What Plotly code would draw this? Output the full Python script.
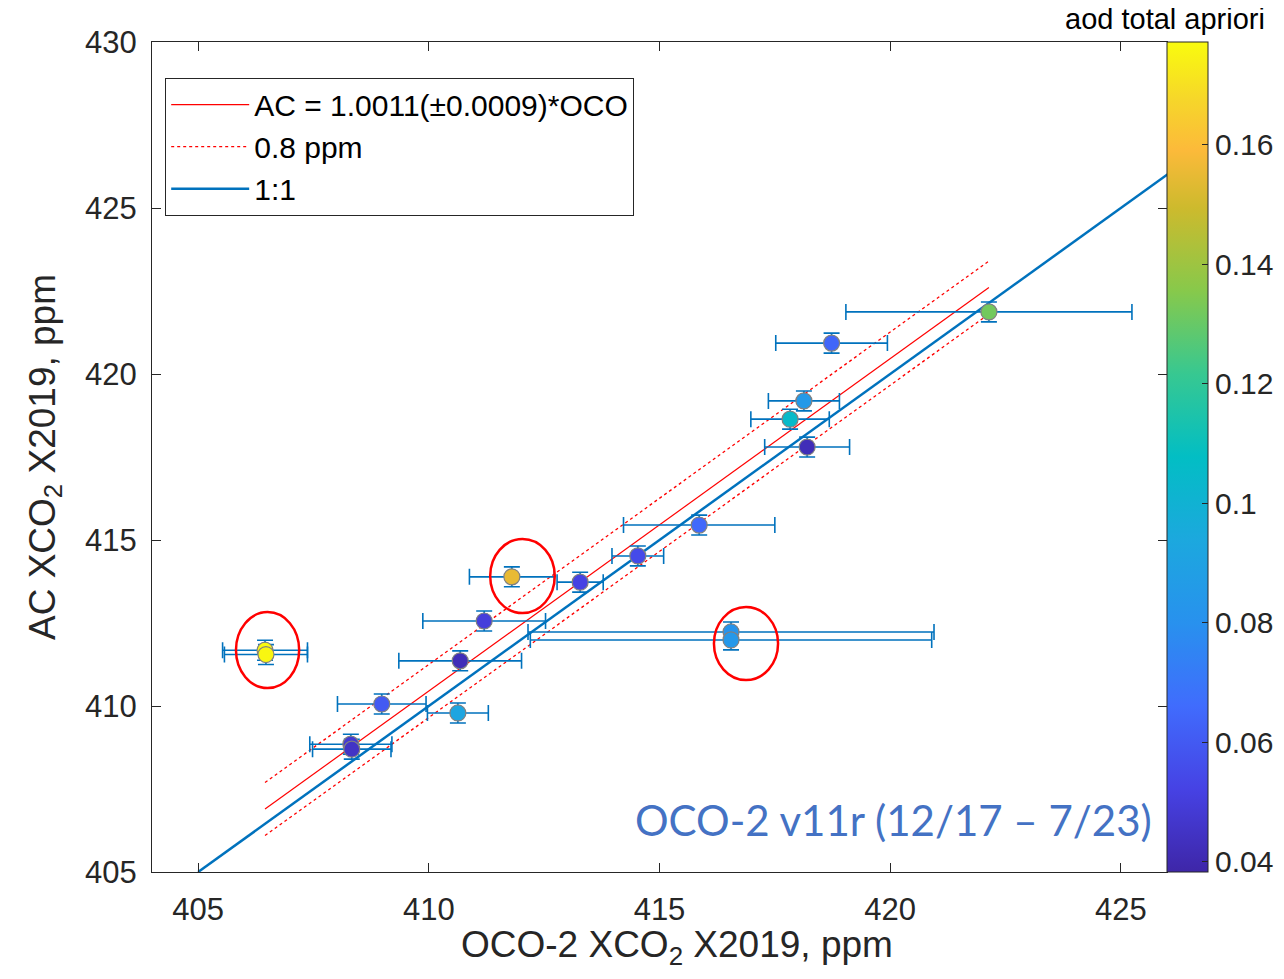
import plotly.graph_objects as go

# ---- data ----
oco = [406.45, 406.47, 411.80, 411.20, 410.68, 408.98, 410.63, 408.31, 408.33, 413.28,
       414.53, 415.86, 418.20, 417.83, 418.13, 418.73, 422.14, 416.55, 416.55]
ac = [411.68, 411.55, 413.89, 412.56, 411.36, 410.06, 409.79, 408.85, 408.70, 413.73,
      414.52, 415.45, 417.80, 418.64, 419.19, 420.93, 421.87, 412.23, 411.99]
oco_err = [0.92, 0.90, 0.92, 1.33, 1.33, 0.96, 0.66, 0.89, 0.85, 0.50,
           0.56, 1.64, 0.92, 0.85, 0.77, 1.21, 3.10, 4.40, 4.35]
ac_err = [0.30, 0.30, 0.30, 0.30, 0.30, 0.30, 0.30, 0.30, 0.30, 0.30,
          0.30, 0.30, 0.30, 0.30, 0.30, 0.30, 0.30, 0.30, 0.30]
aod = [0.177, 0.176, 0.155, 0.050, 0.042, 0.060, 0.092, 0.048, 0.045, 0.052,
       0.055, 0.065, 0.042, 0.105, 0.085, 0.064, 0.132, 0.082, 0.084]
cbar_ticks = [0.04, 0.06, 0.08, 0.1, 0.12, 0.14, 0.16]
cbar_labels = ['0.04', '0.06', '0.08', '0.1', '0.12', '0.14', '0.16']

slope = 1.0011
offset = 0.8
one_to_one = [405, 427]
# highlighted groups (OCO range, AC range)
circles = [((405.82, 407.19), (410.54, 412.83)),
           ((411.33, 412.73), (412.80, 415.03)),
           ((416.18, 417.57), (410.78, 412.98))]

parula = [
    [0.00, 'rgb(62,38,168)'],
    [0.10, 'rgb(70,66,228)'],
    [0.20, 'rgb(64,108,253)'],
    [0.30, 'rgb(40,145,238)'],
    [0.40, 'rgb(28,168,222)'],
    [0.50, 'rgb(2,190,196)'],
    [0.60, 'rgb(55,200,145)'],
    [0.70, 'rgb(135,201,75)'],
    [0.80, 'rgb(205,186,45)'],
    [0.87, 'rgb(252,186,58)'],
    [0.93, 'rgb(246,214,42)'],
    [1.00, 'rgb(249,251,14)'],
]

blue = 'rgb(0,114,189)'
ink = 'rgb(38,38,38)'
font = 'Liberation Sans, Arial, sans-serif'

fig = go.Figure()

xmin, xmax = min(oco), max(oco)
fit_x = [xmin, xmax]
fig.add_trace(go.Scatter(x=fit_x, y=[v * slope for v in fit_x], mode='lines',
                         line=dict(color='red', width=1.2),
                         name='AC = 1.0011(\u00b10.0009)*OCO'))
fig.add_trace(go.Scatter(x=fit_x, y=[v * slope + offset for v in fit_x], mode='lines',
                         line=dict(color='red', width=1.3, dash='dot'), name='0.8 ppm'))
fig.add_trace(go.Scatter(x=fit_x, y=[v * slope - offset for v in fit_x], mode='lines',
                         line=dict(color='red', width=1.3, dash='dot'), name='0.8 ppm',
                         showlegend=False))
fig.add_trace(go.Scatter(x=one_to_one, y=one_to_one, mode='lines',
                         line=dict(color=blue, width=2.5), name='1:1'))

fig.add_trace(go.Scatter(
    x=oco, y=ac, mode='markers', showlegend=False,
    error_x=dict(type='data', array=oco_err, color=blue, thickness=1.6, width=8),
    error_y=dict(type='data', array=ac_err, color=blue, thickness=1.6, width=8),
    marker=dict(size=16, color=aod, colorscale=parula, cmin=0.0383, cmax=0.1772,
                line=dict(color='rgb(128,128,128)', width=1.2),
                colorbar=dict(x=1.0, xanchor='left', xpad=0, y=0.5, yanchor='middle',
                              len=1.0, lenmode='fraction', ypad=0, thickness=41,
                              outlinecolor=ink, outlinewidth=1,
                              tickvals=cbar_ticks, ticktext=cbar_labels,
                              ticks='inside', ticklen=6, tickcolor=ink,
                              tickfont=dict(size=30, family=font, color=ink))),
))

for (cx, cy) in circles:
    fig.add_shape(type='circle', xref='x', yref='y', x0=cx[0], x1=cx[1], y0=cy[0], y1=cy[1],
                  line=dict(color='red', width=2.5))

fig.add_annotation(x=1.0, y=1.0, xref='paper', yref='paper', xanchor='right', yanchor='middle',
                   xshift=100, yshift=23, text='aod total apriori', showarrow=False,
                   font=dict(size=29, family=font, color='black'))
fig.add_annotation(x=0.987, y=0.0627, xref='paper', yref='paper', xanchor='right', yanchor='middle',
                   text='OCO-2 v11r (12/17 \u2013 7/23)', showarrow=False,
                   font=dict(size=42, family='Lato, sans-serif', color='rgb(68,114,196)'))
# x-axis title (placed as in the reference, slightly right of centre)
fig.add_annotation(x=0.517, y=-0.0904, xref='paper', yref='paper', xanchor='center', yanchor='middle',
                   text='OCO-2 XCO<sub>2</sub> X2019, ppm', showarrow=False,
                   font=dict(size=37, family=font, color=ink))

axis_common = dict(showgrid=False, zeroline=False, showline=True, linecolor=ink, linewidth=1,
                   mirror='ticks', ticks='inside', ticklen=9, tickcolor=ink,
                   tickfont=dict(size=31, family=font, color=ink))
fig.update_xaxes(range=[404, 426], tickvals=[405, 410, 415, 420, 425], ticklabelstandoff=10,
                 **axis_common)
fig.update_yaxes(range=[405, 430], tickvals=[405, 410, 415, 420, 425, 430], ticklabelstandoff=8,
                 title=dict(text='AC XCO<sub>2</sub> X2019, ppm', standoff=18,
                            font=dict(size=37, family=font, color=ink)),
                 **axis_common)

fig.update_layout(
    width=1276, height=971,
    margin=dict(l=144, r=117, t=34, b=107, autoexpand=False),
    plot_bgcolor='white', paper_bgcolor='white',
    legend=dict(x=0.013, y=0.957, xanchor='left', yanchor='top',
                bordercolor=ink, borderwidth=1, bgcolor='white',
                font=dict(size=30, family=font, color='black'),
                itemwidth=78, tracegroupgap=0),
)

fig.write_html('out.html')
